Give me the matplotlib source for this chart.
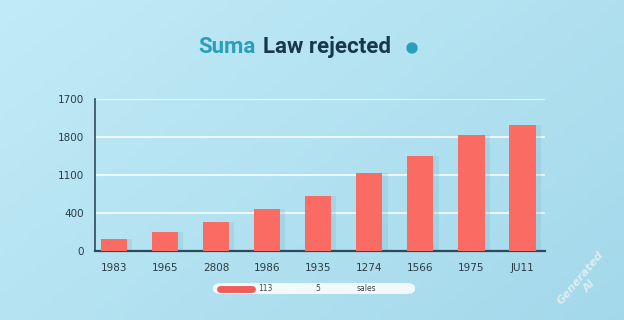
import numpy as np
import matplotlib
matplotlib.use("Agg")
import matplotlib.pyplot as plt
from matplotlib.patches import FancyBboxPatch, Ellipse

years = ["1983", "1965", "2808", "1986", "1935", "1274", "1566", "1975", "JU11"]
values = [153, 247, 380, 553, 713, 1020, 1253, 1520, 1660]
ytick_pos = [0, 500, 1000, 1500, 2000]
ytick_labels = ["0", "400", "1100", "1800", "1700"]
legend_texts = ["113", "5", "sales"]

fig = plt.figure(figsize=(6.24, 3.2), dpi=100)

# background gradient
bg = fig.add_axes([0, 0, 1, 1], zorder=-10)
gx = np.linspace(0, 1, 200)
gy = np.linspace(0, 1, 100)
GX, GY = np.meshgrid(gx, gy)
c1 = np.array([0.76, 0.92, 0.97])
c2 = np.array([0.64, 0.85, 0.92])
t = (0.6 * GX + 0.4 * GY)[..., None]
bg.imshow(c1 * (1 - t) + c2 * t, aspect="auto", extent=[0, 1, 0, 1], origin="upper")
bg.axis("off")

ax = fig.add_axes([0.152, 0.217, 0.721, 0.474])
ax.set_facecolor("none")
x = np.arange(len(years))

# soft shadow to the right of each bar
ax.bar(x + 0.1, values, width=0.52, color="#7fb6c8", alpha=0.25, zorder=2)
ax.bar(x, values, width=0.52, color="#fa6b63", zorder=3)

ax.set_xlim(-0.372, 8.44)
ax.set_ylim(0, 2000)
ax.set_yticks(ytick_pos)
ax.set_yticklabels(ytick_labels)
ax.set_xticks(x)
ax.set_xticklabels(years)
ax.tick_params(length=0, labelsize=7.5, colors="#2b3a44", pad=9)
ax.tick_params(axis="y", pad=8)
ax.grid(axis="y", color="white", linewidth=1.2, alpha=0.9, zorder=1)
for s in ["top", "right"]:
    ax.spines[s].set_visible(False)
ax.spines["left"].set_color("#2d4a5a")
ax.spines["bottom"].set_color("#2d4a5a")
ax.spines["left"].set_linewidth(1.2)
ax.spines["bottom"].set_linewidth(1.6)

# title
fig.text(198 / 624, 1 - 47 / 320, "Suma", fontsize=16, fontweight="bold", family="Roboto",
         color="#2a9fbb", va="center")
fig.text(263 / 624, 1 - 47 / 320, "Law rejected", fontsize=16, fontweight="bold", family="Roboto",
         color="#17384a", va="center")
fig.patches.append(Ellipse((412 / 624, 1 - 48 / 320), 10 / 624, 10 / 320, transform=fig.transFigure,
                           color="#2a9fbb", figure=fig))

# legend strip
fig.patches.append(FancyBboxPatch((213 / 624, 1 - 294 / 320), 202 / 624, 11 / 320,
                                  boxstyle="round,pad=0,rounding_size=0.015",
                                  transform=fig.transFigure, facecolor="white",
                                  edgecolor="none", alpha=0.85, figure=fig))
fig.lines.append(plt.Line2D([220 / 624, 252 / 624], [1 - 288.5 / 320] * 2, color="#ef5e5a",
                            linewidth=5, solid_capstyle="round", transform=fig.transFigure))
fig.text(258 / 624, 1 - 288.5 / 320, legend_texts[0], fontsize=5.5, color="#445", va="center")
fig.text(315 / 624, 1 - 288.5 / 320, legend_texts[1], fontsize=5.5, color="#445", va="center")
fig.text(357 / 624, 1 - 288.5 / 320, legend_texts[2], fontsize=5.5, color="#445", va="center")

# watermark
fig.text(585 / 624, 1 - 282 / 320, "Generated\nAI", fontsize=8, fontstyle="italic", fontweight="bold",
         color="#e6eef2", rotation=50, ha="center", va="center", alpha=0.9)

fig.savefig("out.png", dpi=100)
